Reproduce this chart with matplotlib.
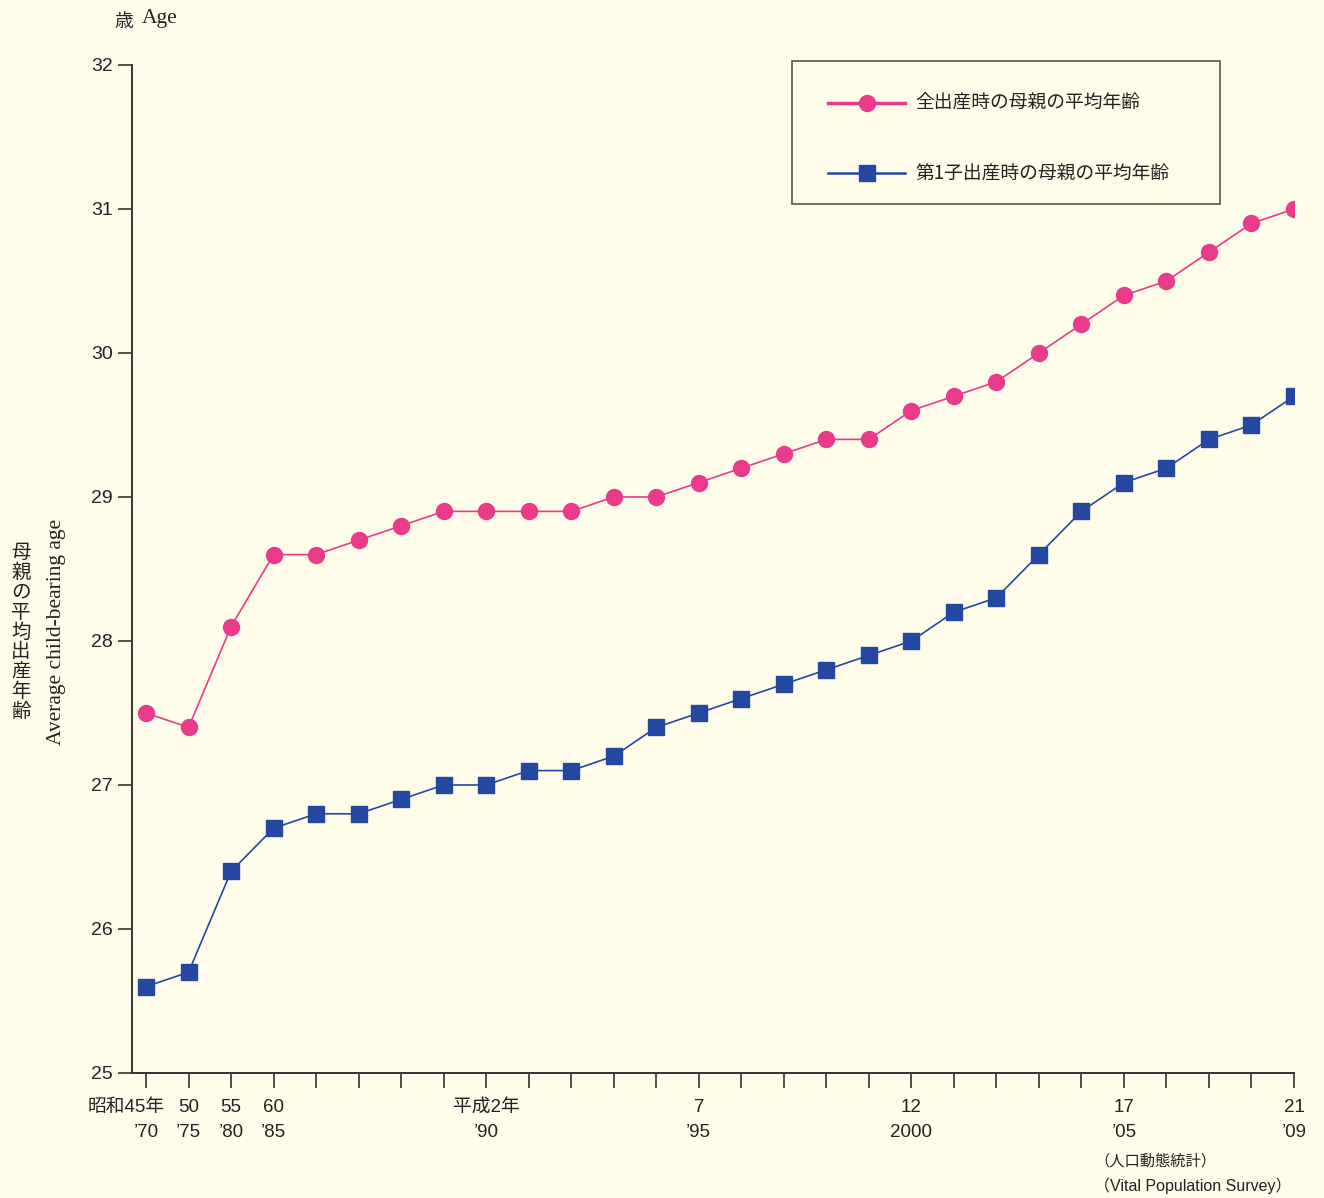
#!/usr/bin/env python3
"""Average age of mothers at childbirth, 1970-2009 (Vital Population Survey)."""

import matplotlib
matplotlib.use("Agg")
import matplotlib.pyplot as plt
from matplotlib.patches import Rectangle

# years on the category axis (1970, 75, 80, 85, then every year to 2009)
years = [1970, 1975, 1980, 1985] + list(range(1986, 2010))

# average age of mother at all births
all_births = [27.5, 27.4, 28.1, 28.6, 28.6, 28.7, 28.8, 28.9, 28.9, 28.9,
              28.9, 29.0, 29.0, 29.1, 29.2, 29.3, 29.4, 29.4, 29.6, 29.7,
              29.8, 30.0, 30.2, 30.4, 30.5, 30.7, 30.9, 31.0]

# average age of mother at first birth
first_birth = [25.6, 25.7, 26.4, 26.7, 26.8, 26.8, 26.9, 27.0, 27.0, 27.1,
               27.1, 27.2, 27.4, 27.5, 27.6, 27.7, 27.8, 27.9, 28.0, 28.2,
               28.3, 28.6, 28.9, 29.1, 29.2, 29.4, 29.5, 29.7]

# labelled ticks: index -> (era year, western year)
tick_labels = {
    0: ("昭和45年", "’70"),
    1: ("50", "’75"),
    2: ("55", "’80"),
    3: ("60", "’85"),
    8: ("平成2年", "’90"),
    13: ("7", "’95"),
    18: ("12", "2000"),
    23: ("17", "’05"),
    27: ("21", "’09"),
}

series_names = ["全出産時の母親の平均年齢", "第1子出産時の母親の平均年齢"]

BG = "#FFFDE9"
PINK = "#EA3B8A"
BLUE = "#2448A0"
AXC = "#333333"
TXT = "#222222"
JP = ["Noto Sans CJK JP", "DejaVu Sans"]
NUM = ["Liberation Sans", "Noto Sans CJK JP", "DejaVu Sans"]
SERIF = ["Liberation Serif", "DejaVu Serif"]

plt.rcParams["font.family"] = JP

fig = plt.figure(figsize=(13.24, 11.98), dpi=100, facecolor=BG)
ax = fig.add_axes([132 / 1324, 125 / 1198, 1162 / 1324, 1008 / 1198])
ax.set_facecolor(BG)

x = list(range(len(years)))
ax.plot(x, all_births, color=PINK, lw=1.2, marker="o", ms=11.5,
        mec=PINK, mfc=PINK, label=series_names[0], zorder=3)
ax.plot(x, first_birth, color=BLUE, lw=1.2, marker="s", ms=12,
        mec=BLUE, mfc=BLUE, label=series_names[1], zorder=3)

ax.set_xlim(-0.33, len(years) - 1)
ax.set_ylim(25, 32)
ax.set_yticks(range(25, 33))
ax.set_xticks(x)
ax.set_xticklabels([""] * len(x))

for side in ["top", "right"]:
    ax.spines[side].set_visible(False)
for side in ["left", "bottom"]:
    ax.spines[side].set_color(AXC)
    ax.spines[side].set_linewidth(1.4)

ax.tick_params(axis="y", direction="out", length=10, width=1.2, color=AXC,
               labelsize=14, labelcolor=TXT, pad=4)
ax.tick_params(axis="x", direction="out", length=11, width=1.2, color=AXC)
for lab in ax.get_yticklabels():
    lab.set_family(NUM)

for i, (era, west) in tick_labels.items():
    if i == 0:
        ax.annotate(era, xy=(i, 0), xycoords=("data", "axes fraction"),
                    xytext=(-20, -26), textcoords="offset pixels",
                    ha="center", va="top", fontsize=13.5, color=TXT,
                    family=NUM)
        ax.annotate(west, xy=(i, 0), xycoords=("data", "axes fraction"),
                    xytext=(0, -51), textcoords="offset pixels",
                    ha="center", va="top", fontsize=13.5, color=TXT,
                    family=NUM)
    else:
        ax.annotate(era + "\n" + west, xy=(i, 0),
                    xycoords=("data", "axes fraction"),
                    xytext=(0, -26), textcoords="offset pixels",
                    ha="center", va="top", fontsize=13.5, color=TXT,
                    multialignment="center", linespacing=1.6, family=NUM)

# source note
fig.text(1094 / 1324, 1 - 1161 / 1198, "（人口動態統計）", fontsize=11,
         color=TXT, va="center", ha="left")
fig.text(1094 / 1324, 1 - 1186 / 1198, "（Vital Population Survey）",
         fontsize=11.5, color=TXT, va="center", ha="left",
         family=["Liberation Sans", "Noto Sans CJK JP"])

# unit label at the top
fig.text(114 / 1324, 1 - 21 / 1198, "歳", fontsize=13.5, color=TXT,
         va="center", ha="left")
fig.text(142 / 1324, 1 - 19 / 1198, "Age", fontsize=15.5, color=TXT,
         va="center", ha="left", family=SERIF)

# axis titles
fig.text(21 / 1324, 1 - 632 / 1198, "\n".join("母親の平均出産年齢"),
         fontsize=14, color=TXT, va="center", ha="center",
         linespacing=0.93)
fig.text(57 / 1324, 1 - 632 / 1198, "Average child-bearing age",
         fontsize=15.5, color=TXT, va="center", ha="center",
         rotation=90, family=SERIF)

# legend (frame drawn separately to match the box size)
leg = ax.legend(loc="upper left", bbox_to_anchor=(0.5749, 1.0),
                fontsize=13.5, frameon=False,
                handlelength=4.1, handletextpad=0.55, labelspacing=2.62,
                borderpad=1.5, borderaxespad=0)
for t in leg.get_texts():
    t.set_color(TXT)
leg.get_lines()[0].set_linewidth(2.5)
leg.get_lines()[1].set_linewidth(1.8)
ax.add_patch(Rectangle((0.568, 0.862), 0.368, 0.142, transform=ax.transAxes,
                       fill=False, ec="#555555", lw=1.2, clip_on=False))

fig.savefig("out.png", dpi=100, facecolor=BG)
